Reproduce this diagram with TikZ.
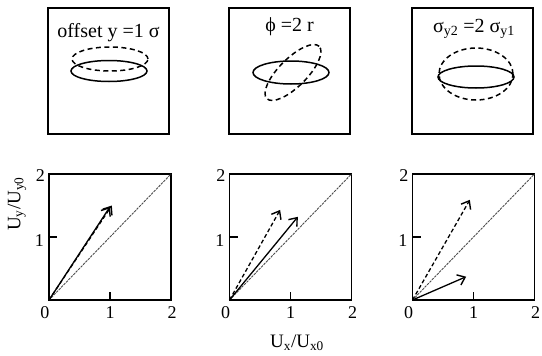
\documentclass[tikz,border=0pt]{standalone}
\usepackage{fontspec}
\setmainfont{Liberation Serif}
\usetikzlibrary{arrows.meta,calc}
\begin{document}
\begin{tikzpicture}[x=1pt,y=-1pt,
  panel/.style={draw,line width=1.6pt,inner sep=0pt,outer sep=0pt,minimum width=121pt,minimum height=126pt},
  plotbox/.style={draw,line width=1.6pt,inner sep=0pt,outer sep=0pt,minimum width=122pt,minimum height=126pt},
  title/.style={inner sep=0pt,font=\fontsize{20}{23}\selectfont},
  ticklab/.style={inner sep=0pt,font=\fontsize{18}{21}\selectfont},
  axlab/.style={inner sep=0pt,font=\fontsize{19}{22}\selectfont},
  ell/.style={line width=1.5pt},
  dell/.style={line width=1.5pt,dash pattern=on 5pt off 3.5pt},
  diag/.style={line width=0.9pt,black!70,dash pattern=on 2.5pt off 1pt},
  solidarrow/.style={line width=1.3pt,-{Straight Barb[length=7pt,width=11pt,line width=1.4pt]}},
  dasharrow/.style={line width=1.3pt,dash pattern=on 4pt off 2.5pt,-{Straight Barb[length=7pt,width=11pt,line width=1.4pt]}},
  tick/.style={line width=1.3pt}]
\useasboundingbox (0,0) rectangle (542,356);
% top panels
\node[panel] (b1) at (108.5,71) {};
\node[panel] (b2) at (289.5,71) {};
\node[panel] (b3) at (472.5,71) {};
\node[title] (t1) at (108.5,33) {offset y =1 σ};
\node[title] (t2) at (289.5,27) {ϕ =2 r};
\node[title] (t3) at (474,29) {σ\textsubscript{y2} =2 σ\textsubscript{y1}};
% ellipses
\draw[dell] (110,59) ellipse [x radius=38pt, y radius=12pt];
\draw[ell] (109,71) ellipse [x radius=38pt, y radius=10.5pt];
\draw[ell] (291,72.5) ellipse [x radius=38pt, y radius=11.5pt];
\draw[dell,rotate around={45:(293,72.5)}] (293,72.5) ellipse [x radius=37pt, y radius=14pt];
\draw[dell] (476,74) ellipse [x radius=37pt, y radius=26pt];
\draw[ell] (476,77) ellipse [x radius=38pt, y radius=11pt];
% plots
\node[plotbox] (p1) at (110,237) {};
\node[plotbox] (p2) at (290.5,237) {};
\node[plotbox] (p3) at (473.5,237) {};
\foreach \p/\sx/\sy/\dx/\dy in {p1/1.0/1.48/1.03/1.5, p2/1.12/1.32/0.83/1.43, p3/0.88/0.37/0.94/1.59}{
  \begin{scope}[shift={(\p.south west)},x=61pt,y=63pt]
    \coordinate (\p o) at (0,0);
    \coordinate (\p d) at (2,2);
    \coordinate (\p s) at (\sx,\sy);
    \coordinate (\p a) at (\dx,\dy);
    \coordinate (\p x1) at (1,0);
    \coordinate (\p y1) at (0,1);
    \draw[diag] (\p o) -- (\p d);
    \draw[dasharrow] (\p o) -- (\p a);
    \draw[solidarrow] (\p o) -- (\p s);
    \draw[tick] (\p x1) -- ++(0,8pt);
    \draw[tick] (\p y1) -- ++(8pt,0);
    \node[ticklab,anchor=north] (\p l0) at ($(\p o)+(-4pt,-6pt)$) {0};
    \node[ticklab,anchor=north] (\p lx1) at ($(\p x1)+(0pt,-6pt)$) {1};
    \node[ticklab,anchor=north] (\p lx2) at ($(2,0)+(1pt,-6pt)$) {2};
    \node[ticklab,anchor=east] (\p ly1) at ($(\p y1)+(-5pt,-4pt)$) {1};
    \node[ticklab,anchor=east] (\p ly2) at ($(0,2)+(-4pt,-2pt)$) {2};
  \end{scope}
}
\node[axlab,rotate=90] (ylab) at (17,204) {U\textsubscript{y}/U\textsubscript{y0}};
\node[axlab] (xlab) at (297,343) {U\textsubscript{x}/U\textsubscript{x0}};
\end{tikzpicture}
\end{document}
